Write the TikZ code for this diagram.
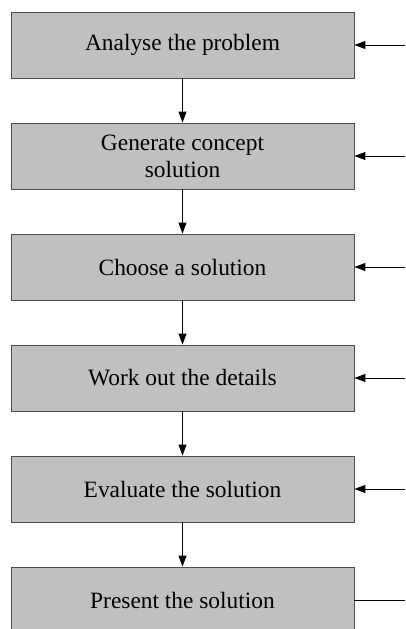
\documentclass[tikz,border=0pt]{standalone}
\usepackage{fontspec}
\setmainfont{Liberation Serif}
\usetikzlibrary{arrows.meta}
\begin{document}
\begin{tikzpicture}[x=1pt,y=-1pt,
  stepbox/.style={draw=black!70, line width=0.9pt, fill={rgb,255:red,192;green,192;blue,192},
    minimum width=343pt, minimum height=66pt, inner sep=0pt, align=center,
    font=\fontsize{23.4}{27}\selectfont},
  flow/.style={line width=1pt, -{Triangle[length=11pt,width=8pt]}}]
\useasboundingbox (0,0) rectangle (405,629);
\clip (0,0) rectangle (405,629);
\node[stepbox] (b1) at (182.5,45) {Analyse the problem};
\node[stepbox] (b2) at (182.5,156) {Generate concept\\solution};
\node[stepbox] (b3) at (182.5,267) {Choose a solution};
\node[stepbox] (b4) at (182.5,378) {Work out the details};
\node[stepbox] (b5) at (182.5,489) {Evaluate the solution};
\node[stepbox] (b6) at (182.5,600) {Present the solution};
\foreach \a/\b in {b1/b2,b2/b3,b3/b4,b4/b5,b5/b6}
  \draw[flow] (\a.south) -- (\b.north);
\foreach \n in {1,...,5}{
  \coordinate (r\n) at (405,{45+111*(\n-1)});
  \draw[flow] (r\n) -- (b\n.east |- r\n);
}
\coordinate (r6) at (405,600);
\draw[line width=1pt] (b6.east) -- (r6);
\end{tikzpicture}
\end{document}
